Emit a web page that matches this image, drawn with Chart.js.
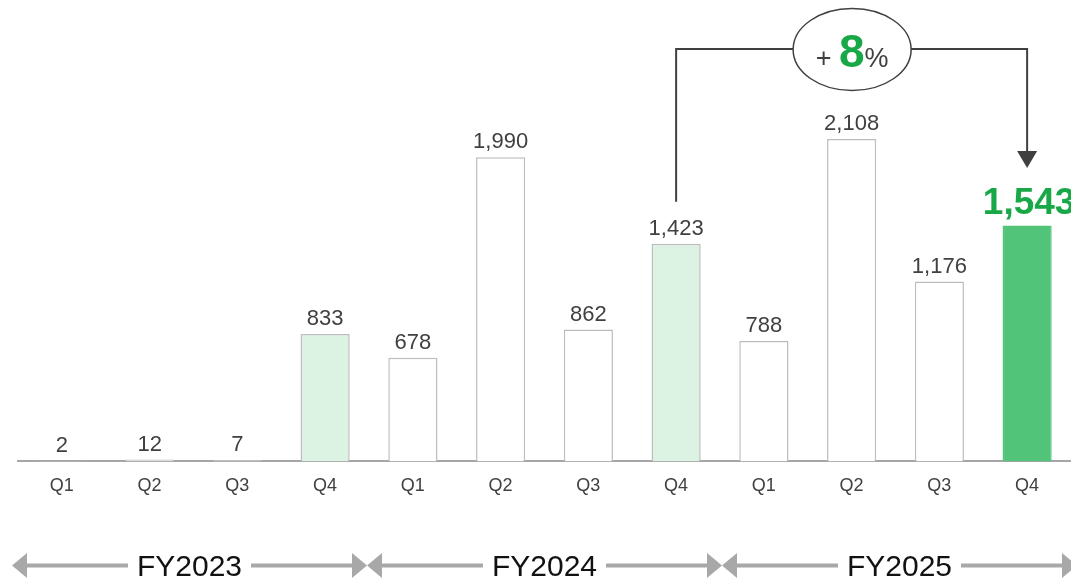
<!DOCTYPE html>
<html>
<head>
<meta charset="utf-8">
<style>
  html, body { margin: 0; padding: 0; background: #fff; }
  #wrap { width: 1071px; height: 581px; position: relative; }
</style>
<script src="https://cdn.jsdelivr.net/npm/chart.js@4.4.1/dist/chart.umd.min.js"></script>
</head>
<body>
<div id="wrap"><canvas id="c" width="1071" height="581"></canvas></div>
<script>
// Quarterly values, FY2023 – FY2025
const quarters = ['Q1', 'Q2', 'Q3', 'Q4', 'Q1', 'Q2', 'Q3', 'Q4', 'Q1', 'Q2', 'Q3', 'Q4'];
const values = [2, 12, 7, 833, 678, 1990, 862, 1423, 788, 2108, 1176, 1543];
const fiscalYears = ['FY2023', 'FY2024', 'FY2025'];
const growthLabel = ['+ ', '8', '%'];
const growthFrom = 7;   // index of FY2024 Q4
const growthTo = 11;    // index of FY2025 Q4

const FONT = '"Liberation Sans", Arial, sans-serif';
const GREEN_TEXT = '#19a847';

const fillColors = values.map((v, i) => i === values.length - 1 ? '#52c479' : (i % 4 === 3 ? '#dcf2e3' : '#ffffff'));
const borderColors = values.map((v, i) => i === values.length - 1 ? '#52c479' : '#bdbdbd');

const fmt = v => v.toLocaleString('en-US');

const overlay = {
  id: 'overlay',
  afterDatasetsDraw(chart) {
    const ctx = chart.ctx;
    const x = chart.scales.x;
    const meta = chart.getDatasetMeta(0);
    ctx.save();
    // value labels above each bar
    ctx.textAlign = 'center';
    ctx.textBaseline = 'alphabetic';
    meta.data.forEach((bar, i) => {
      const last = i === values.length - 1;
      if (last) {
        ctx.font = 'bold 37px ' + FONT;
        ctx.fillStyle = GREEN_TEXT;
        ctx.fillText(fmt(values[i]), bar.x + 2, bar.y - 12);
      } else {
        ctx.font = '22px ' + FONT;
        ctx.fillStyle = '#404040';
        ctx.fillText(fmt(values[i]), bar.x, bar.y - 9);
      }
    });

    // growth bracket between the two Q4 bars
    const xa = meta.data[growthFrom].x, xb = meta.data[growthTo].x;
    const lineY = 49;
    const cx = (xa + xb) / 2 + 0.5, rx = 59, ry = 41;
    ctx.strokeStyle = '#404040';
    ctx.lineWidth = 2;
    ctx.beginPath();
    ctx.moveTo(xa, meta.data[growthFrom].y - 42);
    ctx.lineTo(xa, lineY);
    ctx.lineTo(cx - rx, lineY);
    ctx.moveTo(cx + rx, lineY);
    ctx.lineTo(xb, lineY);
    ctx.lineTo(xb, 152);
    ctx.stroke();
    ctx.fillStyle = '#404040';
    ctx.beginPath();
    ctx.moveTo(xb - 10, 151);
    ctx.lineTo(xb + 10, 151);
    ctx.lineTo(xb, 168);
    ctx.closePath();
    ctx.fill();
    ctx.lineWidth = 1.5;
    ctx.beginPath();
    ctx.ellipse(cx, lineY + 0.5, rx, ry, 0, 0, Math.PI * 2);
    ctx.stroke();
    // "+ 8%"
    ctx.textAlign = 'left';
    const parts = [
      { t: growthLabel[0], f: '27px ' + FONT, c: '#404040' },
      { t: growthLabel[1], f: 'bold 46px ' + FONT, c: GREEN_TEXT },
      { t: growthLabel[2], f: '27px ' + FONT, c: '#404040' }
    ];
    let total = 0;
    parts.forEach(p => { ctx.font = p.f; p.w = ctx.measureText(p.t).width; total += p.w; });
    let tx = cx - total / 2;
    parts.forEach(p => {
      ctx.font = p.f; ctx.fillStyle = p.c;
      ctx.fillText(p.t, tx, 67);
      tx += p.w;
    });

    // fiscal year spans along the bottom
    const step = (x.getPixelForValue(1) - x.getPixelForValue(0));
    const ay = 565.5;
    fiscalYears.forEach((fy, g) => {
      const left = x.getPixelForValue(g * 4) - step / 2 - 6 + 4 * g;
      const right = x.getPixelForValue(g * 4 + 3) + step / 2 - 2 + 4 * g;
      const mid = (left + right) / 2;
      ctx.font = '30px ' + FONT;
      const tw = ctx.measureText(fy).width;
      ctx.strokeStyle = '#a8a8a8';
      ctx.fillStyle = '#a8a8a8';
      ctx.lineWidth = 4;
      ctx.beginPath();
      ctx.moveTo(left + 10, ay);
      ctx.lineTo(mid - tw / 2 - 9, ay);
      ctx.moveTo(mid + tw / 2 + 9, ay);
      ctx.lineTo(right - 10, ay);
      ctx.stroke();
      ctx.beginPath();
      ctx.moveTo(left, ay);
      ctx.lineTo(left + 15, ay - 12.5);
      ctx.lineTo(left + 15, ay + 12.5);
      ctx.closePath();
      ctx.fill();
      ctx.beginPath();
      ctx.moveTo(right, ay);
      ctx.lineTo(right - 15, ay - 12.5);
      ctx.lineTo(right - 15, ay + 12.5);
      ctx.closePath();
      ctx.fill();
      ctx.fillStyle = '#111111';
      ctx.textAlign = 'center';
      ctx.textBaseline = 'middle';
      ctx.fillText(fy, mid, ay + 2);
      ctx.textBaseline = 'alphabetic';
    });
    ctx.restore();
  }
};

new Chart(document.getElementById('c'), {
  type: 'bar',
  data: {
    labels: quarters,
    datasets: [{
      data: values,
      backgroundColor: fillColors,
      borderColor: borderColors,
      borderWidth: 1.5,
      barPercentage: 0.56,
      categoryPercentage: 1
    }]
  },
  options: {
    responsive: false,
    animation: false,
    layout: { padding: { left: 18, right: 0, top: 0, bottom: 78 } },
    plugins: { legend: { display: false }, tooltip: { enabled: false } },
    scales: {
      x: {
        grid: { display: false },
        border: { display: true, color: '#a6a6a6', width: 2 },
        ticks: { color: '#404040', font: { family: FONT, size: 18 }, padding: 6 }
      },
      y: {
        display: false,
        min: 0,
        max: 3018
      }
    }
  },
  plugins: [overlay]
});
</script>
</body>
</html>
